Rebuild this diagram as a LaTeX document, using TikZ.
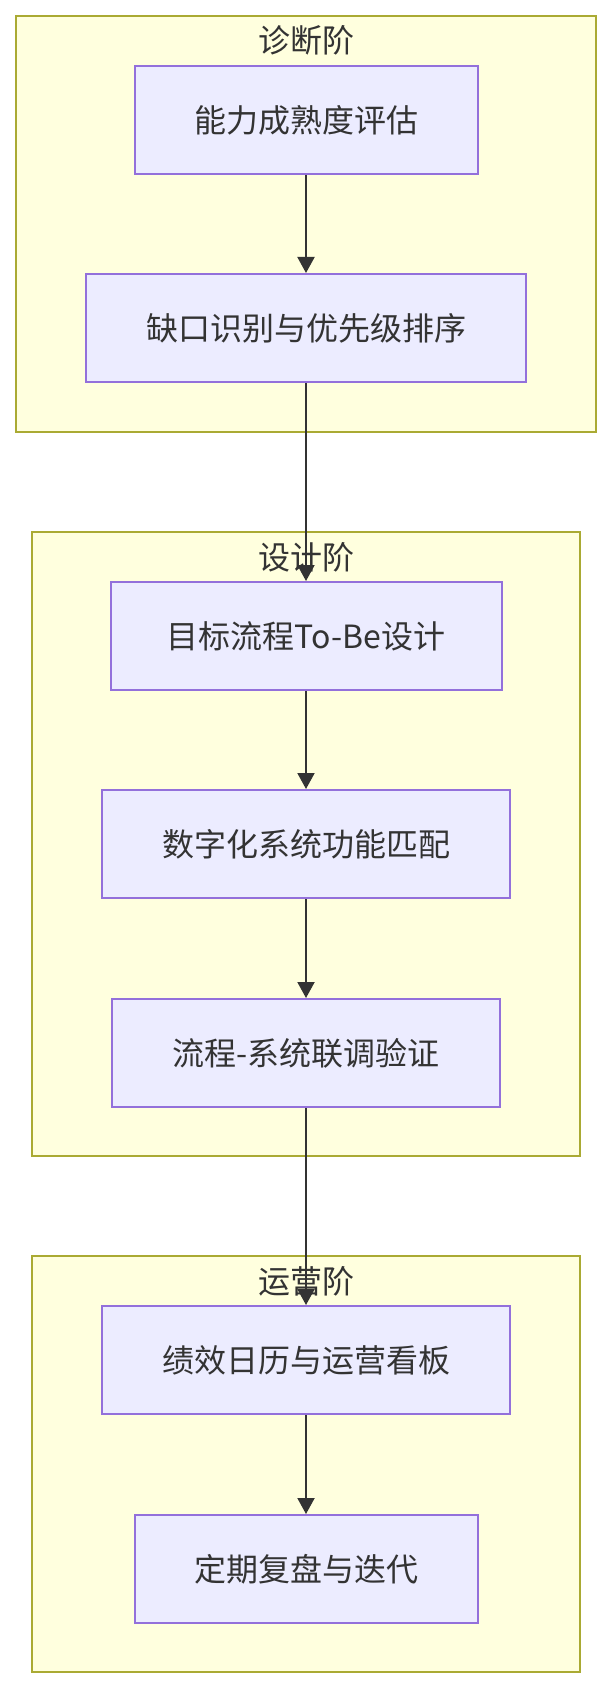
\documentclass[tikz,border=0pt]{standalone}
\usepackage{fontspec}
\newfontfamily\cjk{Noto Sans CJK SC}
\usetikzlibrary{arrows.meta}
\definecolor{clfill}{HTML}{FFFFDE}
\definecolor{cldraw}{HTML}{AAAA33}
\definecolor{ndfill}{HTML}{ECECFF}
\definecolor{nddraw}{HTML}{9370DB}
\definecolor{txt}{HTML}{333333}
\tikzset{
  cluster/.style={fill=clfill,draw=cldraw,line width=2pt},
  box/.style={rectangle,fill=ndfill,draw=nddraw,line width=2pt,minimum height=108pt,inner sep=0pt,text=txt,font=\cjk\fontsize{32}{38}\selectfont},
  ttl/.style={text=txt,inner sep=0pt,font=\cjk\fontsize{32}{38}\selectfont},
  flow/.style={draw=txt,line width=2pt,-{Triangle[width=17pt,length=16pt]}}
}
\begin{document}
\begin{tikzpicture}[x=1pt,y=-1pt]
\useasboundingbox (0,0) rectangle (612,1688);
% clusters
\draw[cluster] (16,16) rectangle (596,432);
\node[ttl] (t1) at (306,40) {诊断阶};
\draw[cluster] (32,532) rectangle (580,1156);
\node[ttl] (t2) at (306,557) {设计阶};
\draw[cluster] (32,1256) rectangle (580,1672);
\node[ttl] (t3) at (306,1281) {运营阶};
% nodes
\node[box,minimum width=343pt] (n1) at (306,120) {能力成熟度评估};
\node[box,minimum width=440pt] (n2) at (306,328) {缺口识别与优先级排序};
\node[box,minimum width=391pt] (n3) at (306,636) {目标流程To-Be设计};
\node[box,minimum width=408pt] (n4) at (306,844) {数字化系统功能匹配};
\node[box,minimum width=388pt] (n5) at (306,1053) {流程-系统联调验证};
\node[box,minimum width=408pt] (n6) at (306,1360) {绩效日历与运营看板};
\node[box,minimum width=343pt] (n7) at (306,1569) {定期复盘与迭代};
% edges
\draw[flow] (n1) -- (n2);
\draw[flow] (n2) -- (n3);
\draw[flow] (n3) -- (n4);
\draw[flow] (n4) -- (n5);
\draw[flow] (n5) -- (n6);
\draw[flow] (n6) -- (n7);
\end{tikzpicture}
\end{document}
